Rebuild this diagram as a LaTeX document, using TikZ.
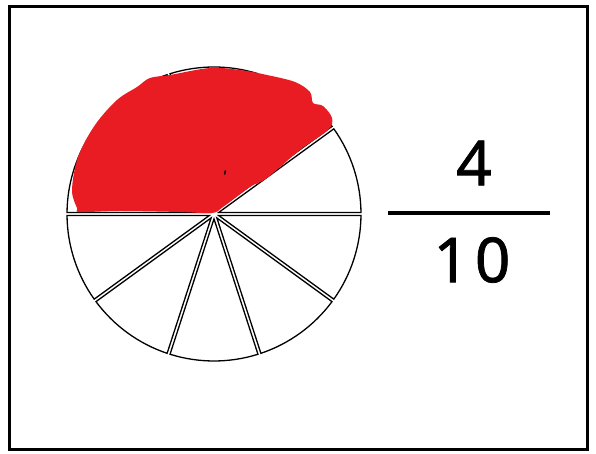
\documentclass[tikz,border=0pt]{standalone}
\usepackage{fontspec}
\setmainfont{Noto Sans}
\usetikzlibrary{calc}
\definecolor{blobred}{HTML}{E91C24}
\tikzset{
  wedge/.style={draw=black, line width=1.3pt, fill=white, line join=miter},
  digit/.style={inner sep=0pt, font=\fontsize{62}{62}\selectfont\addfontfeature{FakeBold=1.2}},
}
\begin{document}
\begin{tikzpicture}[x=1pt, y=1pt]
\useasboundingbox (0,0) rectangle (596,454);

% Outer frame
\draw[line width=3.5pt] (9.5,4.5) rectangle (587.5,447.5);

% Pie cut into ten slices
\coordinate (pc) at (214,240);
\foreach \k in {0,...,9} {
  \pgfmathsetmacro\sa{36*\k+0.6}
  \pgfmathsetmacro\ea{36*\k+35.4}
  \pgfmathsetmacro\ma{36*\k+18}
  \draw[wedge] ($(pc)+(\ma:4.9)$) -- ($(pc)+(\sa:147)$)
    arc[start angle=\sa, end angle=\ea, radius=147] -- cycle;
}

% Red shading over four slices
\fill[blobred] plot[smooth cycle, tension=0.55] coordinates {
  (77,246) (72,264) (78,297) (95,329) (117,354) (137,367) (150,376)
  (170,379) (210,386) (240,384) (267,379) (295,372) (310,362) (313,351)
  (323,348) (332,336) (328,324) (300,304) (267,276) (250,267) (223,247)
  (212,241) (180,242) (120,243) (80,242)};
\draw[line width=1.5pt] (225.5,283.5) -- (224.5,279.5);

% Fraction
\node[digit] (num) at (474,291) {4};
\draw[line width=4pt] (388,241) -- (550,241);
\node[digit] (den) at (472,194) {1\kern6pt0};
\end{tikzpicture}
\end{document}
